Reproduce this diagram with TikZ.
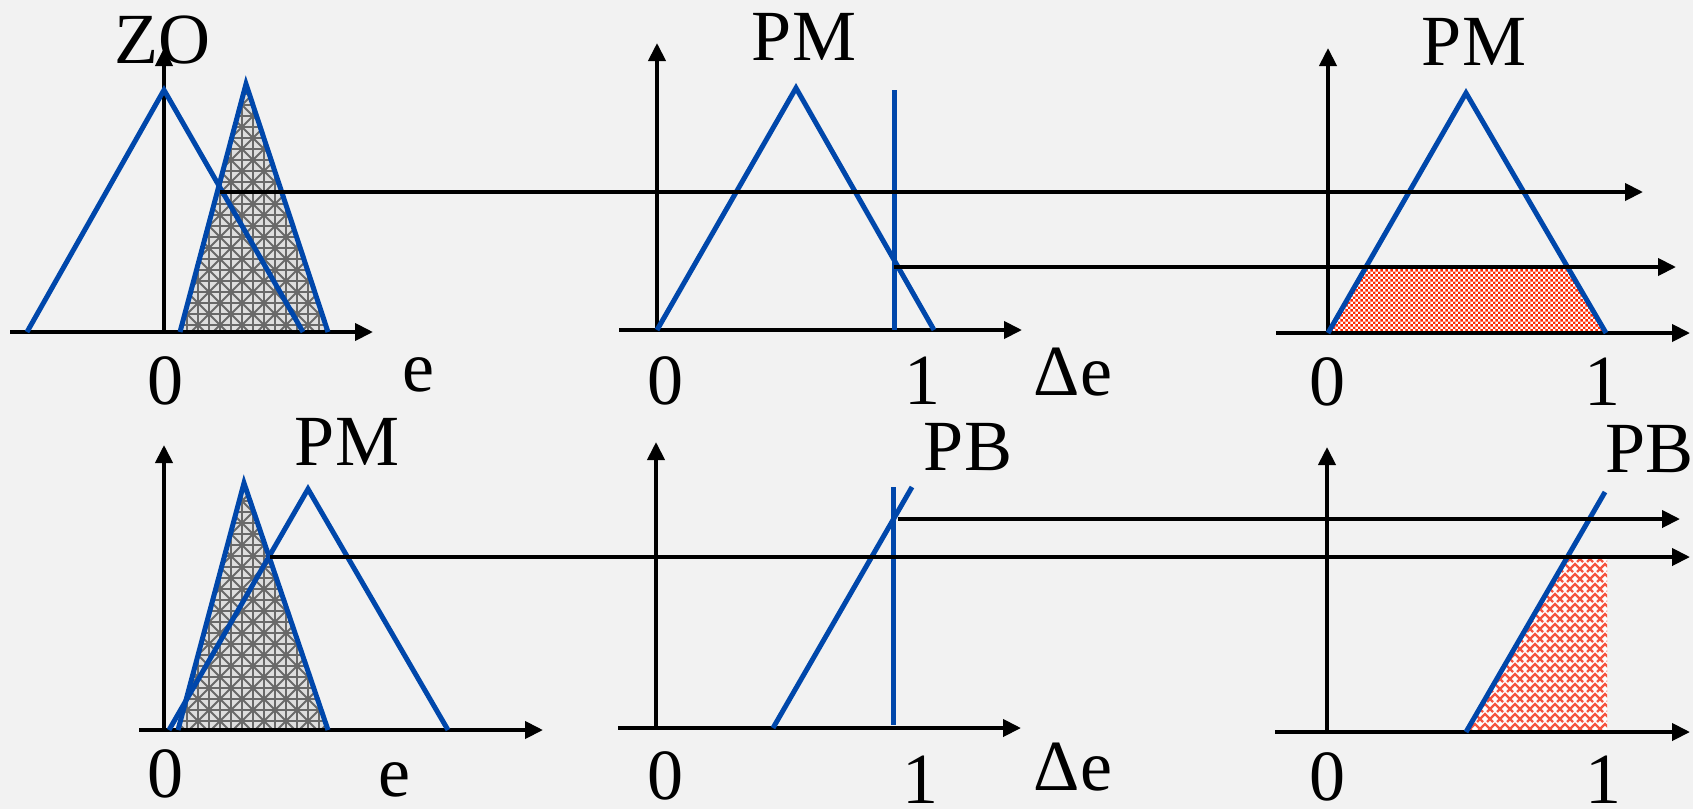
\documentclass[tikz,border=0pt]{standalone}
\usepackage{fontspec}
\setmainfont{Liberation Serif}
\usetikzlibrary{arrows.meta,patterns.meta}

\definecolor{bg}{RGB}{242,242,242}
\definecolor{mfblue}{RGB}{0,71,171}
\definecolor{hatchbg}{RGB}{222,222,222}
\definecolor{hatchln}{RGB}{105,105,105}
\definecolor{chkred}{RGB}{255,40,0}
\definecolor{mazered}{RGB}{245,85,65}

\tikzdeclarepattern{
  name=grayhatch, type=uncolored,
  bounding box={(-1.5pt,-1.5pt) and (23.5pt,23.5pt)},
  tile size={(22pt,22pt)},
  code={
    \draw[line width=1.9pt] (0pt,0pt)--(22pt,22pt) (0pt,22pt)--(22pt,0pt)
      (11pt,-1.5pt)--(11pt,23.5pt) (-1.5pt,11pt)--(23.5pt,11pt)
      (-1.5pt,0pt)--(23.5pt,0pt) (0pt,-1.5pt)--(0pt,23.5pt);
    \fill (11pt,11pt) circle (2.6pt);
    \fill (0pt,0pt) circle (2.6pt);
  }}

\tikzdeclarepattern{
  name=redcheck, type=uncolored,
  bounding box={(0pt,0pt) and (5.4pt,5.4pt)},
  tile size={(5.4pt,5.4pt)},
  code={
    \fill (0pt,0pt) rectangle (2.7pt,2.7pt);
    \fill (2.7pt,2.7pt) rectangle (5.4pt,5.4pt);
  }}

\tikzdeclarepattern{
  name=redmaze, type=uncolored,
  bounding box={(-1.5pt,-1.5pt) and (11.5pt,11.5pt)},
  tile size={(10pt,10pt)},
  code={
    \draw[line width=2.2pt] (0pt,0pt)--(5pt,5pt)--(10pt,0pt)
      (0pt,10pt)--(3pt,7pt) (7pt,7pt)--(10pt,10pt);
  }}

\tikzset{
  axis/.style={line width=4pt, -{Triangle[length=18pt,width=17pt]}},
  flow/.style={line width=4pt, -{Triangle[length=18pt,width=17pt]}},
  plainline/.style={line width=4pt},
  mf/.style={draw=mfblue, line width=5pt, line join=miter},
  hatchfill/.style={fill=hatchbg, postaction={pattern={grayhatch}, pattern color=hatchln}},
  checkfill/.style={fill=white, postaction={pattern={redcheck}, pattern color=chkred}},
  mazefill/.style={fill=white, postaction={pattern={redmaze}, pattern color=mazered}},
  lbl/.style={inner sep=0pt, anchor=base, font=\fontsize{72}{80}\selectfont}
}

\begin{document}
\begin{tikzpicture}[x=1pt,y=-1pt]
\fill[bg] (0,0) rectangle (1693,809);
\useasboundingbox (0,0) rectangle (1693,809);

% ---------- coordinates ----------
% panel 1
\coordinate (a1o) at (164,332); \coordinate (a1l) at (10,332); \coordinate (a1r) at (373,332); \coordinate (a1t) at (164,48);
% panel 2
\coordinate (a2o) at (657,330); \coordinate (a2l) at (619,330); \coordinate (a2r) at (1022,330); \coordinate (a2t) at (657,43);
% panel 3
\coordinate (a3o) at (1328,333); \coordinate (a3l) at (1276,333); \coordinate (a3r) at (1690,333); \coordinate (a3t) at (1328,48);
% panel 4
\coordinate (a4o) at (164,730); \coordinate (a4l) at (139,730); \coordinate (a4r) at (543,730); \coordinate (a4t) at (164,445);
% panel 5
\coordinate (a5o) at (656,728); \coordinate (a5l) at (618,728); \coordinate (a5r) at (1021,728); \coordinate (a5t) at (656,442);
% panel 6
\coordinate (a6o) at (1327,732); \coordinate (a6l) at (1275,732); \coordinate (a6r) at (1690,732); \coordinate (a6t) at (1327,447);

% flow lines
\coordinate (f1s) at (220,192); \coordinate (f1e) at (1643,192);
\coordinate (f2s) at (894,267); \coordinate (f2e) at (1676,267);
\coordinate (f3s) at (270,557); \coordinate (f3e) at (1690,557);
\coordinate (f4s) at (898,519); \coordinate (f4e) at (1680,519);

% ---------- fills ----------
\path[hatchfill] (180,332)--(246,84)--(328,332)--cycle;
\path[hatchfill] (178,730)--(244,483)--(328,730)--cycle;
\path[checkfill] (1330,333)--(1366,267)--(1567,267)--(1606,333)--cycle;
\path[mazefill] (1466,732)--(1567,558)--(1607,558)--(1607,732)--cycle;

% ---------- axes ----------
\draw[plainline] (a1l) -- (a1o); \draw[axis] (a1o) -- (a1r); \draw[axis] (a1o) -- (a1t);
\draw[plainline] (a2l) -- (a2o); \draw[axis] (a2o) -- (a2r); \draw[axis] (a2o) -- (a2t);
\draw[plainline] (a3l) -- (a3o); \draw[axis] (a3o) -- (a3r); \draw[axis] (a3o) -- (a3t);
\draw[plainline] (a4l) -- (a4o); \draw[axis] (a4o) -- (a4r); \draw[axis] (a4o) -- (a4t);
\draw[plainline] (a5l) -- (a5o); \draw[axis] (a5o) -- (a5r); \draw[axis] (a5o) -- (a5t);
\draw[plainline] (a6l) -- (a6o); \draw[axis] (a6o) -- (a6r); \draw[axis] (a6o) -- (a6t);

% ---------- membership functions ----------
\draw[mf] (27,332)--(164,90)--(303,332);
\draw[mf] (180,332)--(246,84)--(328,332);
\draw[mf] (657,330)--(796,88)--(934,330);
\draw[mf] (894,90)--(894,330);
\draw[mf] (1328,333)--(1466,93)--(1606,333);
\draw[mf] (178,730)--(244,483)--(328,730);
\draw[mf] (169,730)--(308,489)--(448,730);
\draw[mf] (773,728)--(912,487);
\draw[mf] (893,487)--(893,725);
\draw[mf] (1466,732)--(1605,492);

% ---------- flow arrows ----------
\draw[flow] (f1s) -- (f1e);
\draw[flow] (f2s) -- (f2e);
\draw[flow] (f3s) -- (f3e);
\draw[flow] (f4s) -- (f4e);

% ---------- labels ----------
\node[lbl] (tZO) at (162,63) {ZO};
\node[lbl] (tPM1) at (804,60) {PM};
\node[lbl] (tPM2) at (1474,65) {PM};
\node[lbl] (tPM3) at (347,465) {PM};
\node[lbl] (tPB1) at (968,470) {PB};
\node[lbl, anchor=base west] (tPB2) at (1605,472) {PB};

\node[lbl] (z1) at (165,404) {0};
\node[lbl] (e1) at (418,391) {e};
\node[lbl] (z2) at (665,404) {0};
\node[lbl] (o2) at (922,404) {1};
\node[lbl] (d2) at (1073,395) {Δe};
\node[lbl] (z3) at (1327,405) {0};
\node[lbl] (o3) at (1602,405) {1};
\node[lbl] (z4) at (165,797) {0};
\node[lbl] (e4) at (394,796) {e};
\node[lbl] (z5) at (665,799) {0};
\node[lbl] (o5) at (920,803) {1};
\node[lbl] (d5) at (1073,790) {Δe};
\node[lbl] (z6) at (1327,800) {0};
\node[lbl] (o6) at (1603,803) {1};
\end{tikzpicture}
\end{document}
